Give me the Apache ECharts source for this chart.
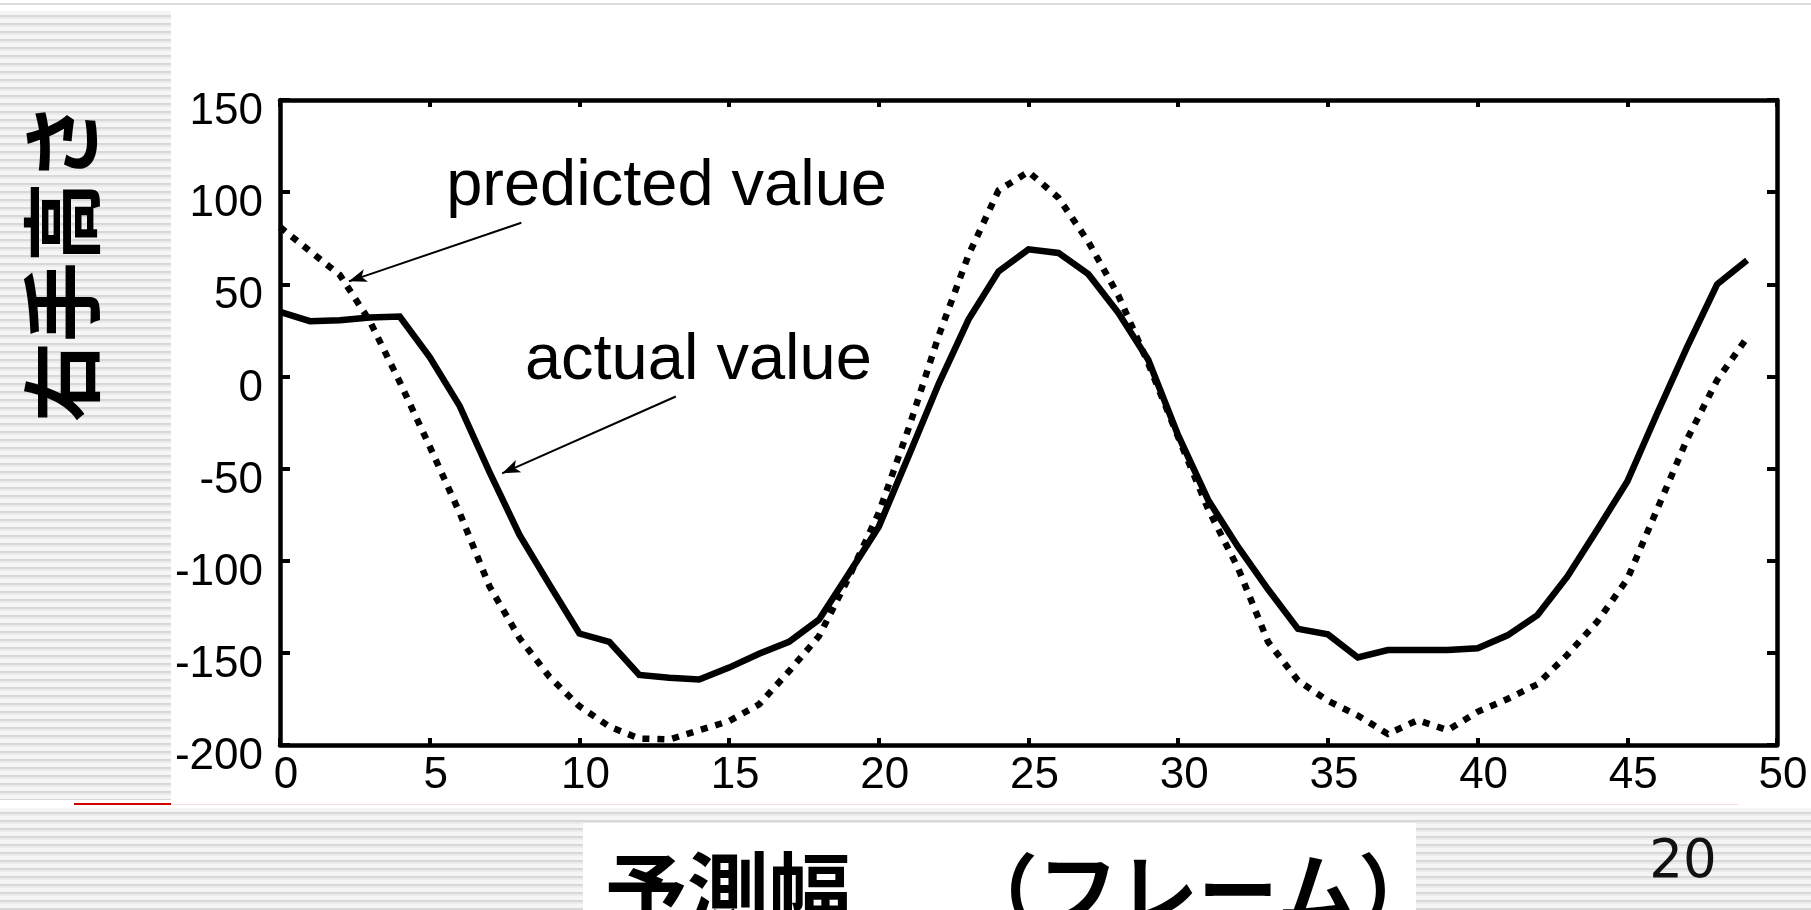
<!DOCTYPE html>
<html>
<head>
<meta charset="utf-8">
<script src="https://cdn.jsdelivr.net/npm/echarts@6/dist/echarts.min.js"></script>
<style>
html,body{margin:0;padding:0;background:#fff;}
#wrap{position:relative;width:1811px;height:910px;overflow:hidden;background:#fff;}
.stripes{position:absolute;background:repeating-linear-gradient(to bottom,#f5f5f5 0px,#f5f5f5 4px,#d8d8d8 4px,#d8d8d8 6px,#ebebeb 6px,#ebebeb 8px);}
.blk{position:absolute;}
#chart{position:absolute;left:0;top:0;width:1811px;height:910px;}
</style>
</head>
<body>
<div id="wrap">
  <div class="blk" style="left:0;top:3px;width:1811px;height:2px;background:#dedede"></div>
  <div class="stripes" style="left:0;top:11px;width:171px;height:789px"></div>
  <div class="blk" style="left:74px;top:803px;width:97px;height:2px;background:#d40000"></div>
  <div class="blk" style="left:171px;top:804px;width:1567px;height:1px;background:#f2dcdc"></div>
  <div class="stripes" style="left:0;top:808px;width:1811px;height:102px"></div>
  <div class="blk" style="left:583px;top:823px;width:833px;height:87px;background:#fff"></div>
  <div id="chart"></div>
</div>
<script>
// ---- data ----
const frames = [0,1,2,3,4,5,6,7,8,9,10,11,12,13,14,15,16,17,18,19,20,21,22,23,24,25,26,27,28,29,30,31,32,33,34,35,36,37,38,39,40,41,42,43,44,45,46,47,48,49];
const actualValues = [35,30,30.5,32,32.5,10.5,-16,-52,-86,-113,-139.5,-144,-162,-163.5,-164.5,-158,-150.5,-144,-132,-107,-81.5,-43,-4,31,57,69,67,55.5,34.5,9,-32,-67,-92.5,-115.5,-137,-140,-152.5,-148.5,-148.5,-148.5,-147.5,-140.5,-129.5,-108.5,-83,-57,-20,16,50,63];
const predictedValues = [81,68,55,30,-3,-38,-74,-114,-142,-163,-179,-190,-196.5,-197,-192,-187,-178,-160,-141,-109,-74,-28,22,66,101,111,97,73,44,7,-33,-72,-104,-144,-165,-176,-184,-194,-186.5,-192,-182,-175,-167,-151,-133,-110,-72,-34,-2,21];
const xTicks = {min:0, max:50, interval:5};
const yTicks = {min:-200, max:150, interval:50};
const yTitle = '右手高さ';
const xTitleMain = '予測幅';
const xTitleUnit = '（フレーム）';
const pageNumber = '20';
const annotationLabels = ['predicted value', 'actual value'];
const annotationTextAnchors = [[5.55, 91], [8.18, -3.5]];   // [frame, value] near left end / baseline of text
const arrowStarts = [[8.06, 83.4], [13.22, -10.9]];
const arrowEnds = [[2.3, 51.6], [7.42, -52.6]];

const chart = echarts.init(document.getElementById('chart'), null, {renderer:'canvas'});

const labelFont = 'Liberation Sans, Arial, Helvetica, sans-serif';
const axisLineStyle = {color:'#000', width:4.5};

function xAxisDef(pos, showLabel){
  return {
    type:'value', position:pos, min:xTicks.min, max:xTicks.max, interval:xTicks.interval,
    axisLine:{show:true, onZero:false, lineStyle:axisLineStyle},
    axisTick:{show:true, inside:true, length:7, lineStyle:{color:'#000', width:4}},
    axisLabel:{show:showLabel, fontSize:44, color:'#000', fontFamily:labelFont, margin:9, padding:[0,0,0,12]},
    splitLine:{show:false}
  };
}
function yAxisDef(pos, showLabel){
  return {
    type:'value', position:pos, min:yTicks.min, max:yTicks.max, interval:yTicks.interval,
    axisLine:{show:true, onZero:false, lineStyle:axisLineStyle},
    axisTick:{show:true, inside:true, length:10, lineStyle:{color:'#000', width:4}},
    axisLabel:{show:showLabel, fontSize:44, color:'#000', fontFamily:labelFont, margin:17,
               verticalAlign:'top', lineHeight:24},
    splitLine:{show:false}
  };
}

const arrowData = arrowStarts.map((s, i) => [{coord:s}, {coord:arrowEnds[i]}]);

chart.setOption({
  animation:false,
  backgroundColor:'transparent',
  grid:{left:280, top:100, width:1497, height:645, containLabel:false},
  xAxis:[xAxisDef('bottom', true), xAxisDef('top', false)],
  yAxis:[yAxisDef('left', true), yAxisDef('right', false)],
  series:[
    {
      name:'predicted value', type:'line',
      data:frames.map((f,i)=>[f, predictedValues[i]]),
      showSymbol:false, symbol:'none',
      lineStyle:{color:'#000', width:6.5, type:[7,8], cap:'butt', join:'miter'},
      z:3
    },
    {
      name:'actual value', type:'line',
      data:frames.map((f,i)=>[f, actualValues[i]]),
      showSymbol:false, symbol:'none',
      lineStyle:{color:'#000', width:6.5, type:'solid', join:'miter'},
      z:4,
      markLine:{
        silent:true, animation:false,
        symbol:['none','arrow'], symbolSize:[10,18],
        label:{show:false},
        lineStyle:{color:'#000', width:2, type:'solid'},
        emphasis:{disabled:true},
        data:arrowData
      }
    }
  ]
});

const annotationGraphics = annotationLabels.map((t, i) => {
  const p = chart.convertToPixel({gridIndex:0}, annotationTextAnchors[i]);
  return {
    type:'text', x:p[0], y:p[1] - 22,
    style:{text:t, fontSize:65, fontFamily:labelFont, fill:'#000', align:'left', verticalAlign:'middle'},
    z:10
  };
});

const cjkFont = '"Noto Sans CJK JP", "Noto Sans CJK SC", sans-serif';
chart.setOption({
  graphic:[
    ...annotationGraphics,
    {type:'text', x:62, y:262, rotation:Math.PI/2,
     style:{text:yTitle, fontSize:80, fontWeight:'bold', fontFamily:cjkFont, fill:'#000', align:'center', verticalAlign:'middle'}, z:10},
    {type:'text', x:605, y:890,
     style:{text:xTitleMain, fontSize:82, fontWeight:'bold', fontFamily:cjkFont, fill:'#000', align:'left', verticalAlign:'middle'}, z:10},
    {type:'text', x:958, y:890,
     style:{text:xTitleUnit, fontSize:80, fontWeight:'bold', fontFamily:cjkFont, fill:'#000', align:'left', verticalAlign:'middle'}, z:10},
    {type:'text', x:1683, y:863,
     style:{text:pageNumber, fontSize:53, fontFamily:'DejaVu Sans, sans-serif', fill:'#111', align:'center', verticalAlign:'middle'}, z:10}
  ]
});
</script>
</body>
</html>
